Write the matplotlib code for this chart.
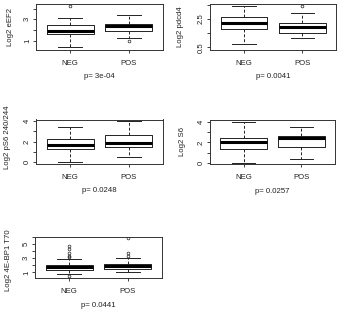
import matplotlib
matplotlib.use("Agg")
import matplotlib.pyplot as plt

plt.rcParams['font.family'] = ['Liberation Sans', 'DejaVu Sans']

groups = ["NEG", "POS"]
ylabels = ["Log2 eEF2", "Log2 pdcd4", "Log2 pS6 240/244", "Log2 S6", "Log2 4E-BP1 T70"]
pvalues = ["p= 3e-04", "p= 0.0041", "p= 0.0248", "p= 0.0257", "p= 0.0441"]

# per panel, per group: whislo, q1, med, q3, whishi
eef2_neg = [0.38, 1.60, 1.93, 2.47, 3.09]
eef2_pos = [1.28, 1.93, 2.40, 2.53, 3.37]
pdcd4_neg = [0.73, 1.79, 2.20, 2.62, 3.42]
pdcd4_pos = [1.14, 1.49, 1.91, 2.24, 2.90]
ps6_neg = [0.00, 1.26, 1.68, 2.23, 3.45]
ps6_pos = [0.54, 1.44, 1.90, 2.70, 4.00]
s6_neg = [0.05, 1.33, 2.03, 2.44, 4.00]
s6_pos = [0.41, 1.58, 2.38, 2.63, 3.50]
bp1_neg = [0.71, 1.33, 1.71, 2.04, 2.86]
bp1_pos = [1.09, 1.52, 1.90, 2.19, 3.00]

eef2_neg_out = [4.25]
eef2_pos_out = [1.00]
pdcd4_neg_out = []
pdcd4_pos_out = [3.42]
ps6_neg_out = []
ps6_pos_out = []
s6_neg_out = []
s6_pos_out = []
bp1_neg_out = [0.45, 3.2, 3.4, 3.7, 4.3, 4.75]
bp1_pos_out = [3.33, 3.8, 5.9]

panel_stats = [
    [(eef2_neg, eef2_neg_out), (eef2_pos, eef2_pos_out)],
    [(pdcd4_neg, pdcd4_neg_out), (pdcd4_pos, pdcd4_pos_out)],
    [(ps6_neg, ps6_neg_out), (ps6_pos, ps6_pos_out)],
    [(s6_neg, s6_neg_out), (s6_pos, s6_pos_out)],
    [(bp1_neg, bp1_neg_out), (bp1_pos, bp1_pos_out)],
]

yticks = [[1, 2, 3, 4], [0.5, 1.5, 2.5, 3.5], [0, 1, 2, 3, 4], [0, 1, 2, 3, 4], [1, 2, 3, 4, 5, 6]]
yticklabels = [["1", "", "3", ""], ["0.5", "", "2.5", ""], ["0", "", "2", "", "4"],
               ["0", "", "2", "", "4"], ["1", "", "3", "", "5", ""]]
ylims = [(0.13, 4.43), (0.31, 3.56), (-0.17, 4.17), (-0.12, 4.16), (0.15, 6.09)]

W, H = 340, 315
# left, right, top, bottom in pixels
boxes_px = [(36, 163, 4, 50), (210, 336, 4, 50), (36, 163, 119.5, 164),
            (210, 335, 120, 164.3), (35, 162, 236.7, 278.3)]
ylab_x = [11, 181, 8, 183, 9]
ylab_y = [27, 27, 137, 142, 260]

fig = plt.figure(figsize=(W / 100, H / 100), dpi=100)
fs = 5.6
lc = '#222222'

for i in range(5):
    l, r, t, b = boxes_px[i]
    ax = fig.add_axes([l / W, 1 - b / H, (r - l) / W, (b - t) / H])
    stats = []
    for (v, out), g in zip(panel_stats[i], groups):
        stats.append(dict(whislo=v[0], q1=v[1], med=v[2], q3=v[3], whishi=v[4],
                          fliers=out, label=g))
    ax.bxp(stats, positions=[1, 2], widths=0.8, showfliers=True,
           boxprops=dict(color=lc, linewidth=0.7),
           whiskerprops=dict(color=lc, linewidth=0.7, linestyle=(0, (3, 2))),
           capprops=dict(color=lc, linewidth=0.7),
           medianprops=dict(color='black', linewidth=2.2, solid_capstyle='butt'),
           flierprops=dict(marker='o', markersize=2, markerfacecolor='none',
                           markeredgecolor=lc, markeredgewidth=0.5),
           capwidths=0.4)
    ax.set_xlim(0.42, 2.58)
    ax.set_ylim(*ylims[i])
    ax.set_yticks(yticks[i])
    ax.set_yticklabels(yticklabels[i], rotation=90, va='center')
    ax.set_xticks([1, 2])
    ax.set_xticklabels(groups)
    ax.tick_params(axis='x', length=2.5, width=0.6, pad=4.7, labelsize=fs, colors=lc)
    ax.tick_params(axis='y', length=2.5, width=0.6, pad=1.2, labelsize=fs, colors=lc)
    for s in ax.spines.values():
        s.set_linewidth(0.7)
        s.set_color('#333333')
    cx = (l + r) / 2
    fig.text(cx / W, 1 - (b + 27) / H, pvalues[i], ha='center', va='center',
             fontsize=fs, color=lc)
    fig.text(ylab_x[i] / W, 1 - ylab_y[i] / H, ylabels[i], rotation=90,
             ha='center', va='center', fontsize=fs, color=lc)

fig.savefig("out.png", dpi=100)
